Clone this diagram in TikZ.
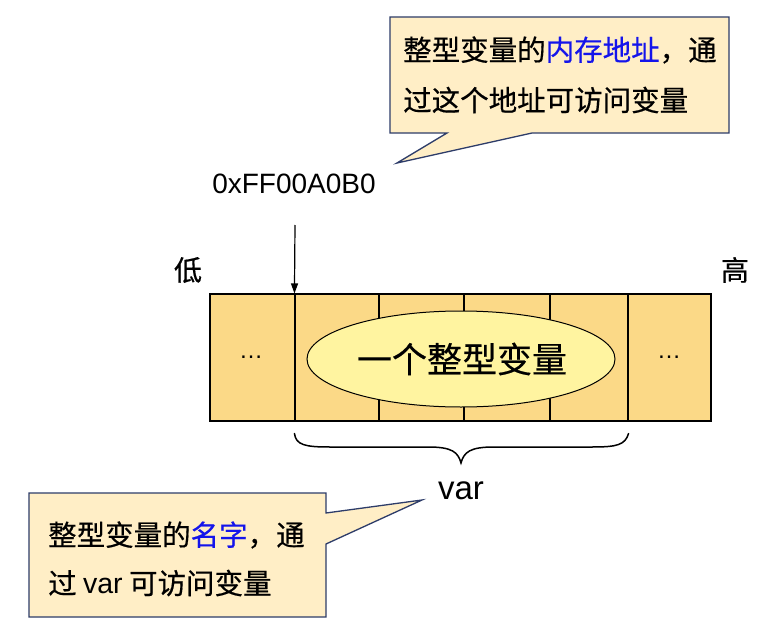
\documentclass[tikz,border=0pt]{standalone}
\usepackage{fontspec}
\setmainfont{Liberation Sans}
\newfontfamily\cjk[FakeBold=0.5]{Noto Sans CJK SC}
\usetikzlibrary{shapes.geometric,arrows.meta}
\definecolor{callfill}{RGB}{255,238,198}
\definecolor{callline}{RGB}{45,60,105}
\definecolor{cellfill}{RGB}{251,217,135}
\definecolor{ellfill}{RGB}{255,244,160}
\definecolor{hiblue}{RGB}{20,20,235}
\tikzset{
  cell/.style={draw=black, line width=1.1pt, fill=cellfill, minimum height=127pt, inner sep=0pt},
  callout/.style={draw=callline, line width=1.3pt, fill=callfill, line join=miter},
  calltext/.style={anchor=west, inner sep=0pt, font=\cjk\fontsize{28.5}{34}\selectfont},
  label/.style={inner sep=0pt, font=\fontsize{28}{34}\selectfont},
  ptr/.style={line width=1.2pt, -{Triangle[length=10pt,width=7pt]}},
  bracestyle/.style={line width=1.5pt, line cap=round}
}
\begin{document}
\begin{tikzpicture}[x=1pt,y=-1pt]
\useasboundingbox (0,0) rectangle (766,634);
\fill[white] (0,0) rectangle (766,634);

% top callout
\filldraw[callout] (390,17) -- (729,17) -- (729,133) -- (532,133) -- (397,163) -- (447,133) -- (390,133) -- cycle;
\node[calltext] (t1) at (403,50) {整型变量的{\color{hiblue}内存地址}，通};
\node[calltext] (t2) at (403,100) {过这个地址可访问变量};

% address
\node[label] (addr) at (294,184) {0xFF00A0B0};
\node[label, font=\cjk\fontsize{28}{34}\selectfont] (low) at (188,270) {低};
\node[label, font=\cjk\fontsize{28}{34}\selectfont] (high) at (735,270) {高};

% memory cells
\node[cell, minimum width=85pt] (c1) at (252.5,357.5) {};
\node[cell, minimum width=84pt] (c2) at (337,357.5) {};
\node[cell, minimum width=85pt] (c3) at (421.5,357.5) {};
\node[cell, minimum width=86pt] (c4) at (507,357.5) {};
\node[cell, minimum width=78pt] (c5) at (589,357.5) {};
\node[cell, minimum width=83pt] (c6) at (669.5,357.5) {};
\node[inner sep=0pt, font=\fontsize{24}{28}\selectfont] (d1) at (251,357) {\dots};
\node[inner sep=0pt, font=\fontsize{24}{28}\selectfont] (d6) at (669,357) {\dots};

\node[ellipse, draw=black, line width=1pt, fill=ellfill, minimum width=308pt, minimum height=96pt, inner sep=0pt] (var) at (461,359) {};
\node[inner sep=0pt, font=\cjk\fontsize{35}{40}\selectfont] (vt) at (462,359) {一个整型变量};

% pointer arrow
\coordinate (astart) at (295,225);
\coordinate (atip) at (c2.north west);
\draw[ptr] (astart) -- (atip);

% brace
\coordinate (bl) at (c2.south west);
\coordinate (br) at (c5.south east);
\coordinate (btip) at (461,463);
\draw[bracestyle] ([yshift=-12pt]bl) .. controls (296,445) and (305,447) .. (330,447) -- (428,447) .. controls (452,447) and (458,452) .. (btip) .. controls (464,452) and (470,447) .. (494,447) -- (592,447) .. controls (617,447) and (625,445) .. ([yshift=-12pt]br);

\node[inner sep=0pt, font=\fontsize{33}{38}\selectfont] (vname) at (461,491) {var};

% bottom callout
\filldraw[callout] (29,493) -- (326,493) -- (326,513) -- (422,500) -- (326,544) -- (326,617) -- (29,617) -- cycle;
\node[calltext] (b1) at (48,535) {整型变量的{\color{hiblue}名字}，通};
\node[calltext] (b2) at (48,583) {过 {\fontspec{Liberation Sans}var} 可访问变量};
\end{tikzpicture}
\end{document}
